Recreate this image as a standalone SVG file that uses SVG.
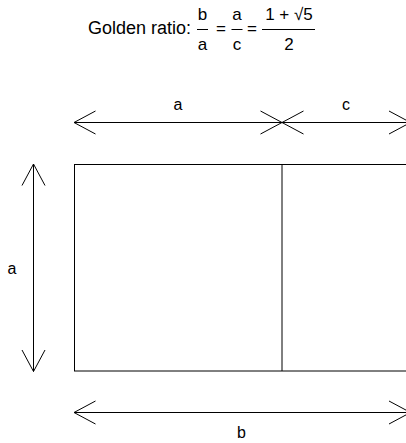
<svg xmlns="http://www.w3.org/2000/svg" width="406" height="443" viewBox="0 0 406 443">
<defs>
<style>
text{font-family:"Liberation Sans",Arial,sans-serif;font-size:16px;fill:#000}
.t{font-size:18px}
.f{font-size:17px}
.m{text-anchor:middle}
.ln{stroke:#000;stroke-width:1;fill:none}
.dim{stroke:#000;stroke-width:1;fill:none;marker-start:url(#head);marker-end:url(#head)}
</style>
<marker id="head" markerUnits="userSpaceOnUse" orient="auto-start-reverse" markerWidth="30" markerHeight="30" refX="0" refY="0" viewBox="-25 -15 30 30" overflow="visible">
<path d="M-21.5,-11.5 L0,0 L-21.5,11.5" fill="none" stroke="#000" stroke-width="1"/>
</marker>
</defs>
<g id="title">
<text class="t" x="88" y="34">Golden ratio:</text>
<text class="m f" x="202.5" y="20">b</text>
<line class="ln" x1="197" y1="29.5" x2="208" y2="29.5"/>
<text class="m f" x="202.5" y="50">a</text>
<text class="m f" x="221" y="34">=</text>
<text class="m f" x="237" y="20">a</text>
<line class="ln" x1="231.5" y1="29.5" x2="242.5" y2="29.5"/>
<text class="m f" x="237" y="50">c</text>
<text class="m f" x="252" y="34">=</text>
<text class="m f" x="289" y="20">1 + √5</text>
<line class="ln" x1="262" y1="29.5" x2="315" y2="29.5"/>
<text class="m f" x="289" y="50">2</text>
</g>
<g id="rect">
<rect class="ln" x="74.5" y="164.5" width="336" height="206.5"/>
<line class="ln" x1="282" y1="164.5" x2="282" y2="371"/>
</g>
<g id="connectors">
<line class="dim" x1="74" y1="122.5" x2="282" y2="122.5"/>
<line class="dim" x1="282" y1="122.5" x2="410.5" y2="122.5"/>
<line class="dim" x1="33.5" y1="164" x2="33.5" y2="371.5"/>
<line class="dim" x1="74" y1="412.5" x2="410.5" y2="412.5"/>
</g>
<g id="labels">
<text class="m" x="178" y="110">a</text>
<text class="m" x="346" y="110">c</text>
<text class="m" x="12" y="274">a</text>
<text class="m" x="241.5" y="438">b</text>
</g>
</svg>
